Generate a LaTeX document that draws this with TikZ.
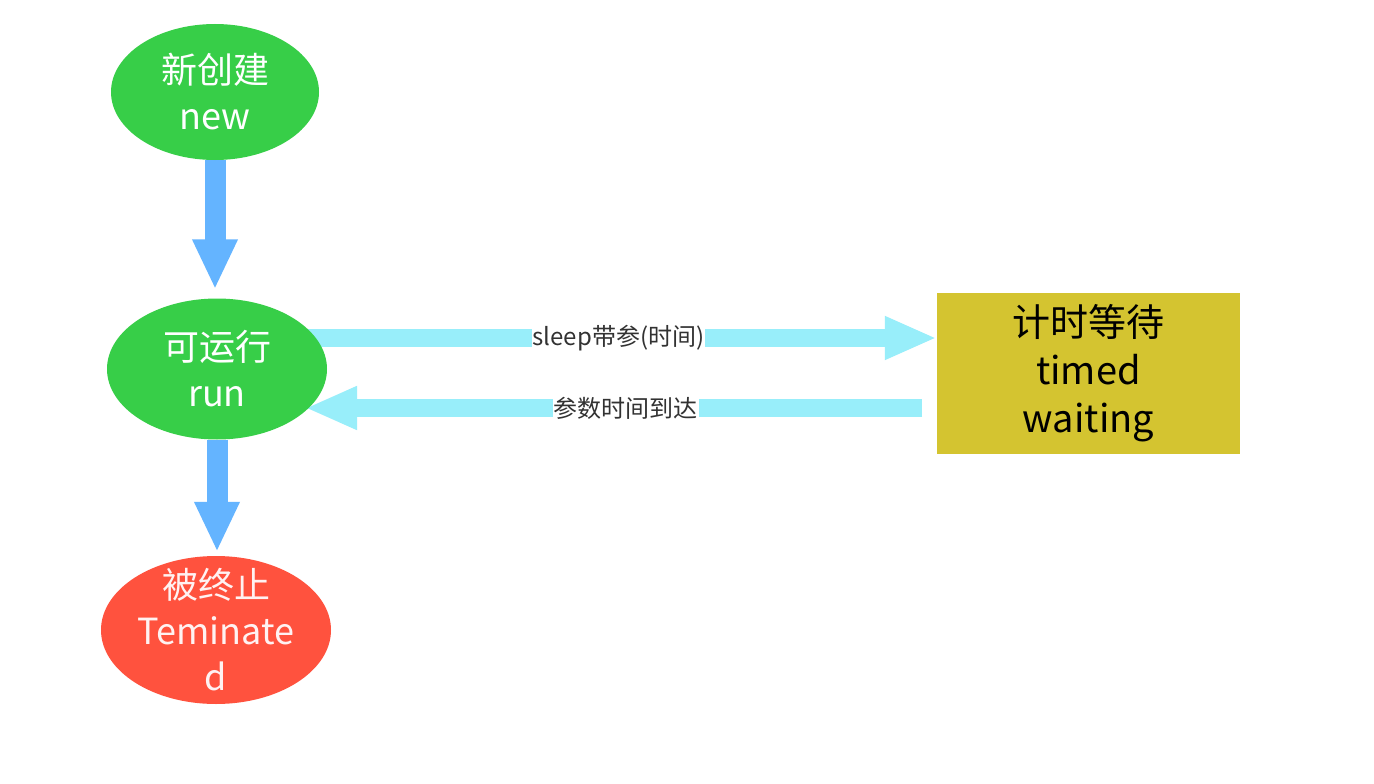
\documentclass[tikz,border=0pt]{standalone}
\usepackage{fontspec}
\setmainfont{Noto Sans CJK SC}
\usetikzlibrary{arrows.meta,shapes.geometric}
\pgfdeclarelayer{bg}
\pgfsetlayers{bg,main}
\definecolor{stgreen}{RGB}{55,206,72}
\definecolor{stred}{RGB}{255,82,62}
\definecolor{styellow}{RGB}{212,196,48}
\definecolor{vblue}{RGB}{100,180,255}
\definecolor{hcyan}{RGB}{152,238,250}
\definecolor{lbl}{RGB}{50,50,50}
\tikzset{
  state/.style={ellipse, inner sep=0pt},
  stext/.style={text=white, align=center,
    font=\fontsize{36}{46}\selectfont},
  varrow/.style={draw=vblue, line width=21pt,
    -{Triangle[length=50pt,width=42pt]}},
  harrow/.style={draw=hcyan, line width=18pt,
    -{Triangle[length=52pt,width=40pt]}},
  lab/.style={fill=white, text=lbl, inner sep=1pt,
    font=\fontsize{24}{26}\selectfont}
}
\begin{document}
\begin{tikzpicture}[x=1pt,y=-1pt]
\begin{pgfonlayer}{bg}
\fill[white] (0,0) rectangle (1374,784);
\end{pgfonlayer}
\useasboundingbox (0,0) rectangle (1374,784);
\node[state, fill=stgreen, minimum width=208pt, minimum height=136pt,
  label={[stext]center:新创建\\new}] (new) at (215,92) {};
\node[state, fill=stgreen, minimum width=220pt, minimum height=141pt,
  label={[stext]center:可运行\\run}] (run) at (217,369) {};
\node[state, fill=stred, minimum width=230pt, minimum height=148pt,
  label={[stext, text=white!95!red]center:被终止\\Teminate\\d}] (term) at (216,630) {};
\node[fill=styellow, minimum width=303pt, minimum height=161pt, inner sep=0pt, align=center,
  font=\fontsize{38}{48}\selectfont] (tw) at (1088.5,373.5) {计时等待\\timed\\waiting};
\coordinate (s1) at (260,338);
\coordinate (e2) at (922,408);
\coordinate (t2) at (305,408);
\begin{pgfonlayer}{bg}
\draw[varrow, shorten >=9pt] (new.south) -- (new.south |- run.north);
\draw[varrow, shorten >=4pt] (run.south) -- (run.south |- term.north);
\draw[harrow] (s1) -- (tw.west |- s1) node[lab, midway, xshift=20pt] {sleep带参(时间)};
\draw[harrow] (e2) -- (t2) node[lab, pos=0.48] {参数时间到达};
\end{pgfonlayer}
\end{tikzpicture}
\end{document}
